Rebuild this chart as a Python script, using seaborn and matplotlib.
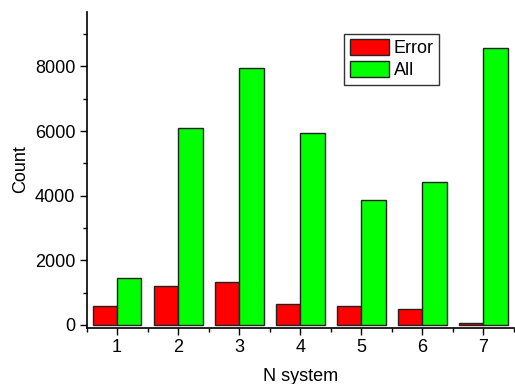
import numpy as np
import pandas as pd
import matplotlib
matplotlib.use("Agg")
import matplotlib.pyplot as plt
from matplotlib.ticker import MultipleLocator, FixedLocator
import seaborn as sns

systems = ["1", "2", "3", "4", "5", "6", "7"]
error_counts = [600, 1210, 1325, 635, 600, 500, 55]
all_counts = [1460, 6100, 7950, 5940, 3870, 4430, 8570]

df = pd.DataFrame({
    "N system": systems * 2,
    "Count": error_counts + all_counts,
    "kind": ["Error"] * len(systems) + ["All"] * len(systems),
})

sns.set_style("ticks", {"text.color": "black", "axes.labelcolor": "black",
                        "xtick.color": "black", "ytick.color": "black"})
plt.rcParams["font.family"] = ["Liberation Sans", "DejaVu Sans"]

fig = plt.figure(figsize=(5.15, 3.84), dpi=100)
ax = fig.add_axes([0.168, 0.147, 0.83, 0.823])

sns.barplot(data=df, x="N system", y="Count", hue="kind",
            palette={"Error": "#ff0000", "All": "#00ff00"},
            edgecolor="#222222", linewidth=1, width=0.8,
            saturation=1, ax=ax)

ax.set_xlim(-0.5, 6.5)
ax.set_ylim(-80, 9700)
ax.yaxis.set_major_locator(FixedLocator([0, 2000, 4000, 6000, 8000]))
ax.yaxis.set_minor_locator(MultipleLocator(1000))
ax.xaxis.set_minor_locator(FixedLocator(np.arange(-0.5, 7, 1)))
ax.tick_params(which="major", direction="out", length=5, width=1, labelsize=13,
               color="black", labelcolor="black", pad=3)
ax.tick_params(which="minor", direction="out", length=3, width=1, color="black")
for s in ["top", "right"]:
    ax.spines[s].set_visible(False)
for s in ["left", "bottom"]:
    ax.spines[s].set_linewidth(1.2)
    ax.spines[s].set_color("black")

ax.set_xlabel("N system", fontsize=13, labelpad=9, color="black")
ax.set_ylabel("Count", fontsize=13, labelpad=4, color="black")

leg = ax.legend(title=None, loc="upper left", bbox_to_anchor=(0.603, 0.93),
                frameon=True, fancybox=False, fontsize=13,
                handlelength=2.2, handleheight=1.0, handletextpad=0.25,
                labelspacing=0.2, borderpad=0.3, borderaxespad=0)
leg.get_frame().set_edgecolor("black")
leg.get_frame().set_linewidth(1)
for t in leg.get_texts():
    t.set_color("black")

fig.savefig("out.png", dpi=100)
